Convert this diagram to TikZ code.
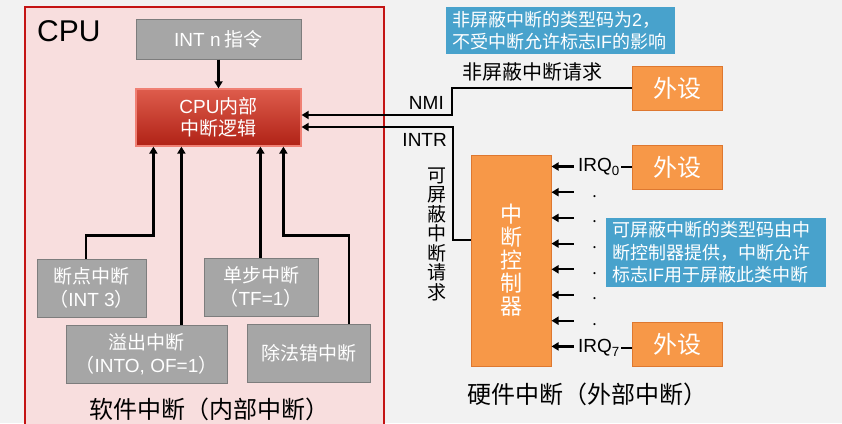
\documentclass[tikz,border=0pt]{standalone}
\usepackage{fontspec}
\setmainfont{Noto Sans CJK SC}
\newfontfamily\latf{Liberation Sans}
\usetikzlibrary{arrows.meta}
\definecolor{pageGray}{RGB}{242,242,242}
\definecolor{cpuPink}{RGB}{248,222,222}
\definecolor{cpuRed}{RGB}{196,20,20}
\definecolor{boxGray}{RGB}{166,166,166}
\definecolor{boxEdge}{RGB}{125,125,125}
\definecolor{logicTop}{RGB}{222,92,76}
\definecolor{logicBot}{RGB}{176,34,22}
\definecolor{logicEdge}{RGB}{240,128,116}
\definecolor{devOrange}{RGB}{247,152,72}
\definecolor{devEdge}{RGB}{222,120,48}
\definecolor{noteBlue}{RGB}{72,162,204}
\newcommand{\Fs}[2]{\fontsize{#1}{#2}\selectfont}
\newcommand{\La}[1]{{\latf #1}}

\begin{document}
\begin{tikzpicture}[x=1pt,y=-1pt,
  arr/.style={-{Triangle[length=7pt,width=8pt]},line width=2.2pt},
  graybox/.style={draw=boxEdge,fill=boxGray,text=white,line width=1pt,align=center,font=\Fs{19}{23}},
  devbox/.style={draw=devEdge,fill=devOrange,text=white,line width=1pt,align=center},
  notebox/.style={fill=noteBlue,text=white,inner xsep=6pt,align=left,font=\Fs{18}{22.5}},
  lbl/.style={font=\Fs{20}{23},inner sep=1pt}]
\useasboundingbox (0,0) rectangle (842,423);
\fill[pageGray] (0,0) rectangle (842,423);
\draw[draw=cpuRed,fill=cpuPink,line width=1.5pt] (25,7) rectangle (384,445);
\node[anchor=west,font=\Fs{30}{32}\latf,inner sep=0pt] (cpuname) at (37,31) {CPU};

\node[graybox,minimum width=165,minimum height=40] (intn) at (218.5,39) {\La{INT n} 指令};
\node[draw=logicEdge,line width=1.2pt,top color=logicTop,bottom color=logicBot,text=white,align=center,
  font=\Fs{19}{22},minimum width=165,minimum height=57] (logic) at (218.5,117.5) {\La{CPU}内部\\中断逻辑};
\draw[arr] (intn) -- (logic);

\node[graybox,minimum width=109,minimum height=58] (brk) at (91.5,288) {断点中断\\（\La{INT 3}）};
\node[graybox,minimum width=114,minimum height=58] (step1) at (261,287) {单步中断\\（\La{TF=1}）};
\node[graybox,minimum width=161,minimum height=58] (ovf) at (146.5,354) {溢出中断\\（\La{INTO, OF=1}）};
\node[graybox,minimum width=123,minimum height=58] (dive) at (308.5,353) {除法错中断};

\coordinate (in1) at ([xshift=18pt]logic.south west);
\coordinate (in2) at ([xshift=46pt]logic.south west);
\coordinate (in3) at ([xshift=125pt]logic.south west);
\coordinate (in4) at ([xshift=148pt]logic.south west);
\draw[arr] ([xshift=-5.5pt]brk.north) -- ++(0,-23) -| (in1);
\draw[arr] (ovf.north -| in2) -- (in2);
\draw[arr] (step1.north -| in3) -- (in3);
\draw[arr] ([xshift=40.5pt]dive.north) -- ++(0,-88) -| (in4);
\node[font=\Fs{24}{26}] (swtitle) at (209,409) {软件中断（内部中断）};

\node[devbox,font=\Fs{24}{26},minimum width=90,minimum height=44] (dev1) at (677,88) {外设};
\node[devbox,font=\Fs{24}{26},minimum width=90,minimum height=44] (dev2) at (677,167) {外设};
\node[devbox,font=\Fs{24}{26},minimum width=90,minimum height=44] (dev3) at (677,344) {外设};
\node[devbox,font=\Fs{22}{23},minimum width=80,minimum height=211] (ctrl) at (511,260.5) {中\\断\\控\\制\\器};

\draw[arr] (dev1.west) -| (452,115) -- ([yshift=2.5pt]logic.east);
\draw[arr] ([yshift=20.5pt]ctrl.west) -| (453,127) -- ([yshift=-9.5pt]logic.east);
\node[lbl,anchor=east,font=\Fs{19}{23}\latf] (nmi) at (445,103) {NMI};
\node[lbl] (nmireq) at (532,72) {非屏蔽中断请求};
\node[lbl,anchor=east,font=\Fs{19}{23}\latf] (intr) at (448,140) {INTR};
\node[lbl,align=center,font=\Fs{19}{19.5}] (intrreq) at (437,234) {可\\屏\\蔽\\中\\断\\请\\求};

\foreach \k in {0,...,7}{
  \coordinate (irq\k) at ([yshift={-12-25.7*\k}]ctrl.north east);
  \draw[arr] (irq\k) ++(22,0) -- (irq\k);
}
\foreach \k in {1,...,6}
  \node[font=\Fs{16}{16},inner sep=0pt] (dot\k) at ([xshift=43pt,yshift=-4pt]irq\k) {.};
\node[lbl,font=\Fs{19}{20}\latf] (irqa) at (599,167) {IRQ\textsubscript{0}};
\node[lbl,font=\Fs{19}{20}\latf] (irqb) at (599,348) {IRQ\textsubscript{7}};
\draw[line width=2pt] (dev2.west) -- (irqa.east);
\draw[line width=2pt] (dev3.west |- irqb.east) -- (irqb.east);
\node[font=\Fs{24}{26}] (hwtitle) at (587,394) {硬件中断（外部中断）};

\node[notebox,minimum height=47,text width=217] (note1) at (560.5,30.5) {非屏蔽中断的类型码为\La{2}，\\不受中断允许标志\La{IF}的影响};
\node[notebox,minimum height=69,text width=208] (note2) at (716,252.5) {可屏蔽中断的类型码由中\\断控制器提供，中断允许\\标志\La{IF}用于屏蔽此类中断};
\end{tikzpicture}
\end{document}
